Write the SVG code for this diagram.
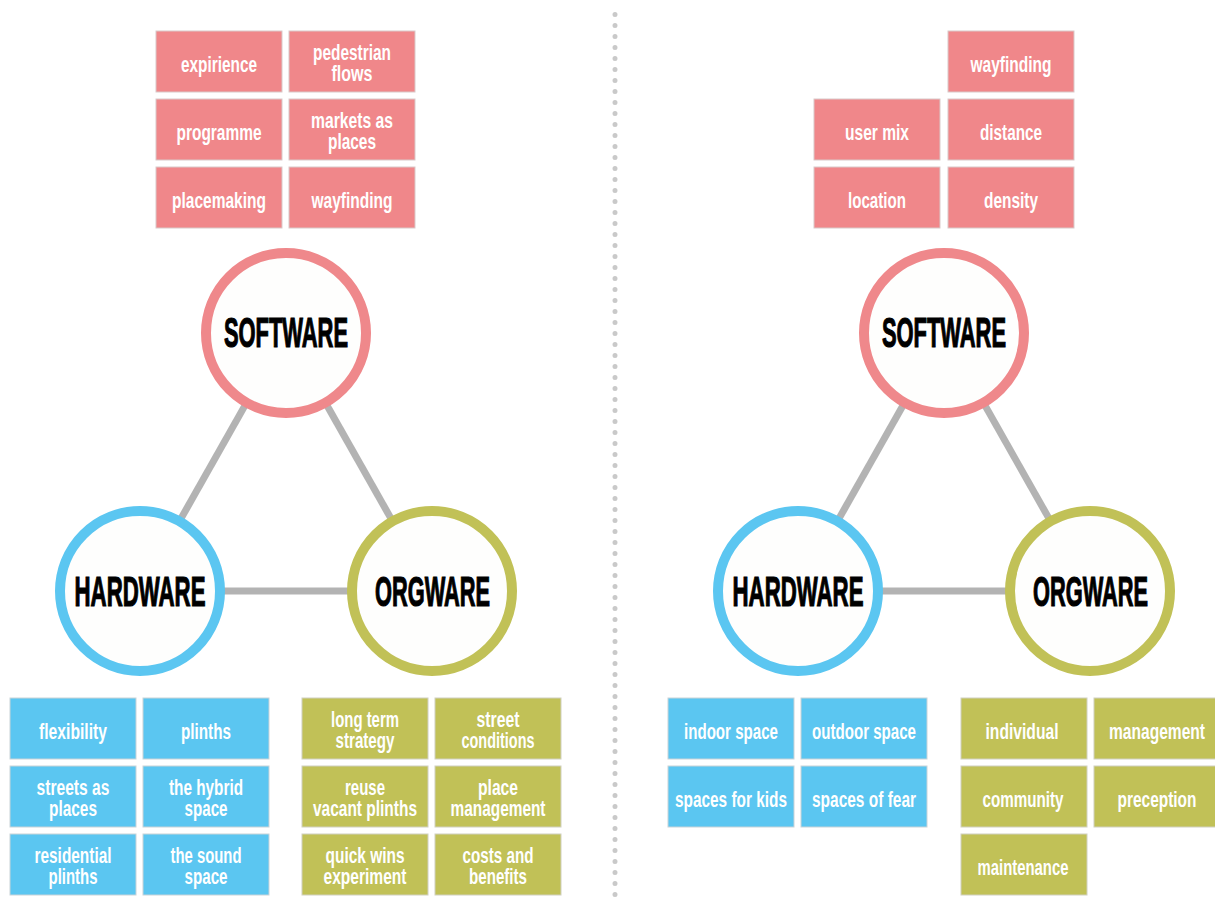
<svg xmlns="http://www.w3.org/2000/svg" width="1215" height="906" viewBox="0 0 1215 906">
<style>
.bg{fill:#ffffff}
.pink{fill:#F0878A;stroke:#d9c9c9;stroke-width:1}
.blue{fill:#5BC6F1;stroke:#c9d3d8;stroke-width:1}
.olive{fill:#C1C157;stroke:#d0d0c0;stroke-width:1}
.lbl{font-family:"Liberation Sans Narrow","Liberation Sans",Arial,sans-serif;font-size:22px;font-weight:bold;fill:#ffffff;text-anchor:middle}
.ring{fill:#fefefd;stroke-width:10}
.rs{stroke:#EF888B}
.rh{stroke:#5BC6F1}
.ro{stroke:#C1C157}
.big{font-family:"Liberation Sans Narrow","Liberation Sans",Arial,sans-serif;font-size:42px;font-weight:bold;fill:#000;stroke:#000;stroke-width:1.2;text-anchor:middle}
.conn{stroke:#b3b3b3;stroke-width:7;fill:none}
.div{stroke:#c9c9c9;stroke-width:5;stroke-linecap:round;stroke-dasharray:0 11}
</style>
<rect class="bg" x="0" y="0" width="1215" height="906"/>
<line id="divider" class="div" x1="615" y1="14.5" x2="615" y2="900"/>

<g id="connectors">
<line class="conn" x1="286" y1="333" x2="140" y2="591"/>
<line class="conn" x1="286" y1="333" x2="432" y2="591"/>
<line class="conn" x1="140" y1="591" x2="432" y2="591"/>
<line class="conn" x1="944" y1="333" x2="798" y2="591"/>
<line class="conn" x1="944" y1="333" x2="1090" y2="591"/>
<line class="conn" x1="798" y1="591" x2="1090" y2="591"/>
</g>

<g id="L-software"><circle class="ring rs" cx="286" cy="333" r="80"/><text class="big" x="286" y="346.5" textLength="124" lengthAdjust="spacingAndGlyphs">SOFTWARE</text></g>
<g id="L-hardware"><circle class="ring rh" cx="140" cy="591" r="80"/><text class="big" x="140" y="606" textLength="131" lengthAdjust="spacingAndGlyphs">HARDWARE</text></g>
<g id="L-orgware"><circle class="ring ro" cx="432" cy="591" r="80"/><text class="big" x="432.5" y="606" textLength="115" lengthAdjust="spacingAndGlyphs">ORGWARE</text></g>

<g id="R-software"><circle class="ring rs" cx="944" cy="333" r="80"/><text class="big" x="944" y="346.5" textLength="124" lengthAdjust="spacingAndGlyphs">SOFTWARE</text></g>
<g id="R-hardware"><circle class="ring rh" cx="798" cy="591" r="80"/><text class="big" x="798" y="606" textLength="131" lengthAdjust="spacingAndGlyphs">HARDWARE</text></g>
<g id="R-orgware"><circle class="ring ro" cx="1090" cy="591" r="80"/><text class="big" x="1090.5" y="606" textLength="115" lengthAdjust="spacingAndGlyphs">ORGWARE</text></g>

<g id="L-expirience"><rect class="pink" x="156" y="31" width="126" height="61"/><text class="lbl" x="219" y="71.5" textLength="76" lengthAdjust="spacingAndGlyphs">expirience</text></g>
<g id="L-pedestrian"><rect class="pink" x="289" y="31" width="126" height="61"/><text class="lbl" x="352" y="59.5" textLength="78" lengthAdjust="spacingAndGlyphs">pedestrian</text><text class="lbl" x="352" y="80.5" textLength="41" lengthAdjust="spacingAndGlyphs">flows</text></g>
<g id="L-programme"><rect class="pink" x="156" y="99" width="126" height="61"/><text class="lbl" x="219" y="139.5" textLength="85" lengthAdjust="spacingAndGlyphs">programme</text></g>
<g id="L-markets"><rect class="pink" x="289" y="99" width="126" height="61"/><text class="lbl" x="352" y="127.5" textLength="82" lengthAdjust="spacingAndGlyphs">markets as</text><text class="lbl" x="352" y="148.5" textLength="48" lengthAdjust="spacingAndGlyphs">places</text></g>
<g id="L-placemaking"><rect class="pink" x="156" y="167" width="126" height="61"/><text class="lbl" x="219" y="207.5" textLength="94" lengthAdjust="spacingAndGlyphs">placemaking</text></g>
<g id="L-wayfinding"><rect class="pink" x="289" y="167" width="126" height="61"/><text class="lbl" x="352" y="207.5" textLength="81" lengthAdjust="spacingAndGlyphs">wayfinding</text></g>

<g id="R-wayfinding"><rect class="pink" x="948" y="31" width="126" height="61"/><text class="lbl" x="1011" y="71.5" textLength="81" lengthAdjust="spacingAndGlyphs">wayfinding</text></g>
<g id="R-usermix"><rect class="pink" x="814" y="99" width="126" height="61"/><text class="lbl" x="877" y="139.5" textLength="64" lengthAdjust="spacingAndGlyphs">user mix</text></g>
<g id="R-distance"><rect class="pink" x="948" y="99" width="126" height="61"/><text class="lbl" x="1011" y="139.5" textLength="62" lengthAdjust="spacingAndGlyphs">distance</text></g>
<g id="R-location"><rect class="pink" x="814" y="167" width="126" height="61"/><text class="lbl" x="877" y="207.5" textLength="58" lengthAdjust="spacingAndGlyphs">location</text></g>
<g id="R-density"><rect class="pink" x="948" y="167" width="126" height="61"/><text class="lbl" x="1011" y="207.5" textLength="54" lengthAdjust="spacingAndGlyphs">density</text></g>

<g id="L-flexibility"><rect class="blue" x="10" y="698" width="126" height="61"/><text class="lbl" x="73" y="738.5" textLength="68" lengthAdjust="spacingAndGlyphs">flexibility</text></g>
<g id="L-plinths"><rect class="blue" x="143" y="698" width="126" height="61"/><text class="lbl" x="206" y="738.5" textLength="50" lengthAdjust="spacingAndGlyphs">plinths</text></g>
<g id="L-streets"><rect class="blue" x="10" y="766" width="126" height="61"/><text class="lbl" x="73" y="794.5" textLength="73" lengthAdjust="spacingAndGlyphs">streets as</text><text class="lbl" x="73" y="815.5" textLength="48" lengthAdjust="spacingAndGlyphs">places</text></g>
<g id="L-hybrid"><rect class="blue" x="143" y="766" width="126" height="61"/><text class="lbl" x="206" y="794.5" textLength="74" lengthAdjust="spacingAndGlyphs">the hybrid</text><text class="lbl" x="206" y="815.5" textLength="43" lengthAdjust="spacingAndGlyphs">space</text></g>
<g id="L-residential"><rect class="blue" x="10" y="834" width="126" height="61"/><text class="lbl" x="73" y="862.5" textLength="77" lengthAdjust="spacingAndGlyphs">residential</text><text class="lbl" x="73" y="883.5" textLength="49" lengthAdjust="spacingAndGlyphs">plinths</text></g>
<g id="L-sound"><rect class="blue" x="143" y="834" width="126" height="61"/><text class="lbl" x="206" y="862.5" textLength="71" lengthAdjust="spacingAndGlyphs">the sound</text><text class="lbl" x="206" y="883.5" textLength="43" lengthAdjust="spacingAndGlyphs">space</text></g>

<g id="L-longterm"><rect class="olive" x="302" y="698" width="126" height="61"/><text class="lbl" x="365" y="726.5" textLength="68" lengthAdjust="spacingAndGlyphs">long term</text><text class="lbl" x="365" y="747.5" textLength="59" lengthAdjust="spacingAndGlyphs">strategy</text></g>
<g id="L-street"><rect class="olive" x="435" y="698" width="126" height="61"/><text class="lbl" x="498" y="726.5" textLength="43" lengthAdjust="spacingAndGlyphs">street</text><text class="lbl" x="498" y="747.5" textLength="73" lengthAdjust="spacingAndGlyphs">conditions</text></g>
<g id="L-reuse"><rect class="olive" x="302" y="766" width="126" height="61"/><text class="lbl" x="365" y="794.5" textLength="40" lengthAdjust="spacingAndGlyphs">reuse</text><text class="lbl" x="365" y="815.5" textLength="104" lengthAdjust="spacingAndGlyphs">vacant plinths</text></g>
<g id="L-place"><rect class="olive" x="435" y="766" width="126" height="61"/><text class="lbl" x="498" y="794.5" textLength="40" lengthAdjust="spacingAndGlyphs">place</text><text class="lbl" x="498" y="815.5" textLength="95" lengthAdjust="spacingAndGlyphs">management</text></g>
<g id="L-quickwins"><rect class="olive" x="302" y="834" width="126" height="61"/><text class="lbl" x="365" y="862.5" textLength="79" lengthAdjust="spacingAndGlyphs">quick wins</text><text class="lbl" x="365" y="883.5" textLength="83" lengthAdjust="spacingAndGlyphs">experiment</text></g>
<g id="L-costs"><rect class="olive" x="435" y="834" width="126" height="61"/><text class="lbl" x="498" y="862.5" textLength="71" lengthAdjust="spacingAndGlyphs">costs and</text><text class="lbl" x="498" y="883.5" textLength="58" lengthAdjust="spacingAndGlyphs">benefits</text></g>

<g id="R-indoor"><rect class="blue" x="668" y="698" width="126" height="61"/><text class="lbl" x="731" y="738.5" textLength="94" lengthAdjust="spacingAndGlyphs">indoor space</text></g>
<g id="R-outdoor"><rect class="blue" x="801" y="698" width="126" height="61"/><text class="lbl" x="864" y="738.5" textLength="104" lengthAdjust="spacingAndGlyphs">outdoor space</text></g>
<g id="R-kids"><rect class="blue" x="668" y="766" width="126" height="61"/><text class="lbl" x="731" y="806.5" textLength="112" lengthAdjust="spacingAndGlyphs">spaces for kids</text></g>
<g id="R-fear"><rect class="blue" x="801" y="766" width="126" height="61"/><text class="lbl" x="864" y="806.5" textLength="104" lengthAdjust="spacingAndGlyphs">spaces of fear</text></g>

<g id="R-individual"><rect class="olive" x="961" y="698" width="126" height="61"/><text class="lbl" x="1022" y="738.5" textLength="73" lengthAdjust="spacingAndGlyphs">individual</text></g>
<g id="R-management"><rect class="olive" x="1094" y="698" width="126" height="61"/><text class="lbl" x="1157" y="738.5" textLength="96" lengthAdjust="spacingAndGlyphs">management</text></g>
<g id="R-community"><rect class="olive" x="961" y="766" width="126" height="61"/><text class="lbl" x="1023" y="806.5" textLength="81" lengthAdjust="spacingAndGlyphs">community</text></g>
<g id="R-preception"><rect class="olive" x="1094" y="766" width="126" height="61"/><text class="lbl" x="1157" y="806.5" textLength="79" lengthAdjust="spacingAndGlyphs">preception</text></g>
<g id="R-maintenance"><rect class="olive" x="961" y="834" width="126" height="61"/><text class="lbl" x="1023" y="874.5" textLength="91" lengthAdjust="spacingAndGlyphs">maintenance</text></g>
</svg>
